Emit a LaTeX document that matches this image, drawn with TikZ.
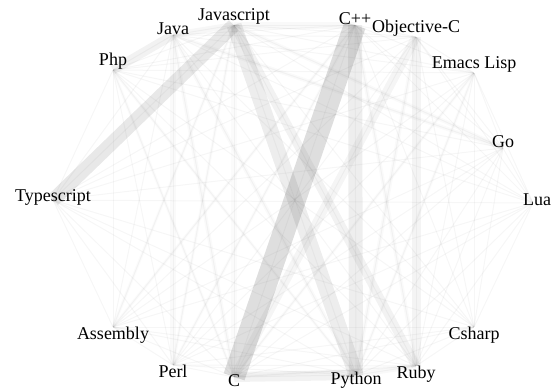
\documentclass[tikz,border=0pt]{standalone}
\usepackage{fontspec}
\setmainfont{Liberation Serif}
\usetikzlibrary{backgrounds}

\begin{document}
\begin{tikzpicture}
        [x=1pt,y=-1pt]
            \tikzstyle{every node}=[inner sep=0pt, minimum size=0pt]
            \tikzstyle{every label}=[font=\fontsize{18}{20}\selectfont]
        \useasboundingbox (0,0) rectangle (553,389);
        %-----languages
         \node[label=above:Javascript]  (JS) at (234,25) {};
         \node[label=above:C++]  (CPP) at (355,25) {};
         \node[label=above:Objective-C]  (OC) at (416,37) {};
         \node[label=above:Emacs Lisp]  (EL) at (474,73) {};
         \node[label=above:Go]  (GO) at (503,148) {};
         \node[label={[xshift=4pt,yshift=3pt]center:Lua}]  (LU) at (533,203) {};
         \node[label=below:Csharp]  (CS) at (474,327) {};
         \node[label=below:Ruby]  (RB) at (416,366) {};
         \node[label={[yshift=3pt]below:Python}]  (PY) at (356,375) {};
         \node[label={[yshift=3pt]below:C}]  (C) at (234,377) {};
         \node[label=below:Perl]  (PL) at (173,365) {};
         \node[label=below:Assembly]  (AS) at (113,327) {};
         \node[label={[yshift=3pt]center:Typescript}]  (TS) at (53,200) {};
         \node[label=above:Php]  (PH) at (113,70) {};
         \node[label=above:Java]  (JA) at (173,35) {};

        \begin{scope}[on background layer]
         % every pair, faint
         \foreach \a [count=\i] in {JS,CPP,OC,EL,GO,LU,CS,RB,PY,C,PL,AS,TS,PH,JA}
         \foreach \b [count=\j] in {JS,CPP,OC,EL,GO,LU,CS,RB,PY,C,PL,AS,TS,PH,JA}
         {\ifnum\j>\i \draw[line width=1, draw opacity=0.035] (\a) -- (\b); \fi}

         % the heavier ones
         \foreach \from/\to/\w/\o in {CPP/C/22/0.13,JS/PY/15/0.07,JS/TS/14/0.09,CPP/PY/14/0.065,
            JS/RB/9/0.05,OC/RB/9/0.045,OC/C/9/0.04,JA/PH/9/0.05,C/PY/10/0.05,
            JS/CPP/7/0.025,JS/JA/6/0.03,JS/C/6/0.015,JA/PL/6/0.02,PY/RB/5/0.025,
            JS/GO/4/0.02,JA/GO/4/0.02,JA/C/4/0.02,JA/PY/4/0.02,PH/C/3/0.015,PH/PY/3/0.015,
            OC/PY/4/0.02,CPP/RB/4/0.02,CPP/PL/3/0.015,AS/CPP/3/0.015,EL/C/3/0.015,
            EL/PY/3/0.015,C/RB/3/0.015,JS/AS/3/0.015,JS/PL/3/0.015}
         \draw[line width=\w, draw opacity=\o] (\from) -- (\to);
        \end{scope}
        \end{tikzpicture}
\end{document}
